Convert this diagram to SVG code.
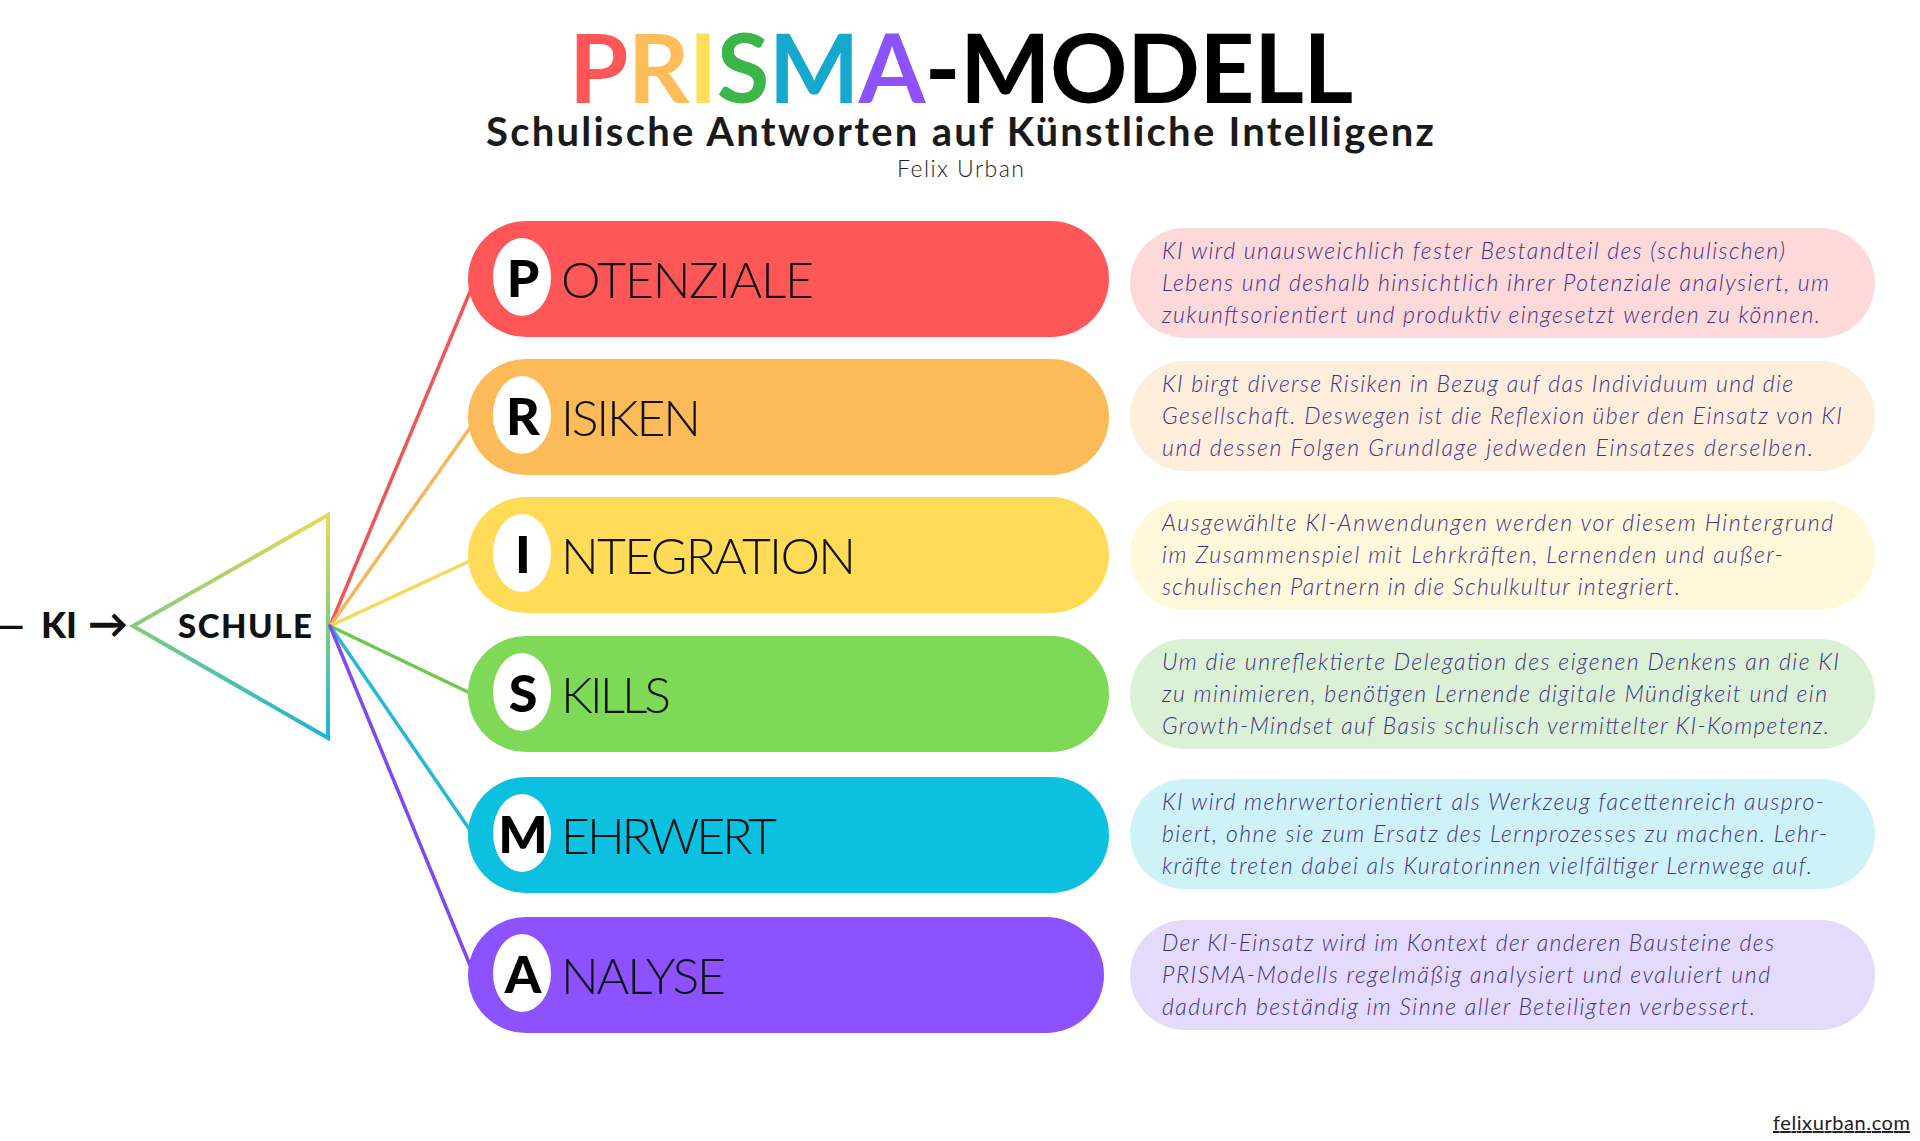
<svg xmlns="http://www.w3.org/2000/svg" width="1920" height="1141" viewBox="0 0 1920 1141">
<defs>
<linearGradient id="triGrad" gradientUnits="userSpaceOnUse" x1="0" y1="515" x2="0" y2="738">
<stop offset="0" stop-color="#ECD85A"/>
<stop offset="0.5" stop-color="#7FCD80"/>
<stop offset="1" stop-color="#1DB4DA"/>
</linearGradient>
</defs>
<style>
.title{font-family:"Lato","Liberation Sans",sans-serif;font-weight:700;}
.sub{font-family:"Lato","Liberation Sans",sans-serif;font-weight:700;fill:#1a1a1a;}
.author{font-family:"Lato","Liberation Sans",sans-serif;font-weight:300;fill:#222;}
.pill-oval{fill:#fff;}
.letter{font-family:"Lato","Liberation Sans",sans-serif;font-weight:900;font-size:52px;fill:#000;text-anchor:middle;}
.label{font-family:"Lato","Liberation Sans",sans-serif;font-weight:300;font-size:50px;fill:#111;}
.desc{font-family:"Lato","Liberation Sans",sans-serif;font-style:italic;font-weight:300;font-size:23px;fill:#3E3388;}
.conn{stroke-width:3.5;fill:none;stroke-linecap:round;}
.ki{font-family:"Lato","Liberation Sans",sans-serif;font-weight:900;fill:#111;}
</style>
<rect width="1920" height="1141" fill="#fff"/>

<g id="title">
<text class="title" x="569" y="103" font-size="96" textLength="784"><tspan fill="#FF5757">P</tspan><tspan fill="#FFBD59">R</tspan><tspan fill="#FFDE59">I</tspan><tspan fill="#3CB54A">S</tspan><tspan fill="#17A8CF">M</tspan><tspan fill="#8C52FF">A</tspan><tspan fill="#000">-MODELL</tspan></text>
<text class="sub" x="486" y="146" font-size="40" textLength="948">Schulische Antworten auf Künstliche Intelligenz</text>
<text class="author" x="897" y="177" font-size="23" textLength="127">Felix Urban</text>
</g>

<g id="input">
<text class="ki" y="638" font-size="36"><tspan x="-4" font-weight="700">—</tspan><tspan x="41">KI</tspan></text>
<text class="ki" x="88" y="638" font-size="40" font-family="DejaVu Sans" font-weight="700">→</text>
</g>

<g id="schule">
<polygon points="133,626 328,515 328,738" fill="none" stroke="url(#triGrad)" stroke-width="4" stroke-linejoin="miter"/>
<text class="ki" x="178" y="638" font-size="33" textLength="134">SCHULE</text>
</g>

<g id="connectors">
<line class="conn" x1="330" y1="626" x2="472" y2="287" stroke="#F05656"/>
<line class="conn" x1="330" y1="626" x2="472" y2="425" stroke="#F6B65B"/>
<line class="conn" x1="330" y1="626" x2="472" y2="560" stroke="#F7D65A"/>
<line class="conn" x1="330" y1="626" x2="472" y2="694" stroke="#6CC94F"/>
<line class="conn" x1="330" y1="626" x2="472" y2="833" stroke="#26B8D9"/>
<line class="conn" x1="330" y1="626" x2="472" y2="970" stroke="#8048F5"/>
</g>

<g id="potenziale">
<rect x="468" y="221" width="641" height="116" rx="58" fill="#FF5757"/>
<ellipse class="pill-oval" cx="522" cy="277" rx="29" ry="39"/>
<text class="letter" x="523" y="297">P</text>
<text class="label" x="561" y="298" textLength="253">OTENZIALE</text>
</g>
<g id="risiken">
<rect x="468" y="359" width="641" height="116" rx="58" fill="#FDBA58"/>
<ellipse class="pill-oval" cx="522" cy="415" rx="29" ry="39"/>
<text class="letter" x="523" y="435">R</text>
<text class="label" x="561" y="436" textLength="140">ISIKEN</text>
</g>
<g id="integration">
<rect x="468" y="497" width="641" height="116" rx="58" fill="#FFDB58"/>
<ellipse class="pill-oval" cx="522" cy="553" rx="29" ry="39"/>
<text class="letter" x="523" y="573">I</text>
<text class="label" x="561" y="574" textLength="295">NTEGRATION</text>
</g>
<g id="skills">
<rect x="468" y="636" width="641" height="116" rx="58" fill="#7ED957"/>
<ellipse class="pill-oval" cx="522" cy="692" rx="29" ry="39"/>
<text class="letter" x="523" y="712">S</text>
<text class="label" x="561" y="713" textLength="110">KILLS</text>
</g>
<g id="mehrwert">
<rect x="468" y="777" width="641" height="116" rx="58" fill="#0CC0DF"/>
<ellipse class="pill-oval" cx="522" cy="833" rx="29" ry="39"/>
<text class="letter" x="523" y="853">M</text>
<text class="label" x="561" y="854" textLength="216">EHRWERT</text>
</g>
<g id="analyse">
<rect x="468" y="917" width="636" height="116" rx="58" fill="#8C52FF"/>
<ellipse class="pill-oval" cx="522" cy="973" rx="29" ry="39"/>
<text class="letter" x="523" y="993">A</text>
<text class="label" x="561" y="994" textLength="165">NALYSE</text>
</g>

<g id="desc-potenziale">
<rect x="1130" y="228" width="745" height="110" rx="55" fill="#FDD9D9"/>
<text class="desc" x="1162" y="259" textLength="623">KI wird unausweichlich fester Bestandteil des (schulischen)</text>
<text class="desc" x="1162" y="291" textLength="667">Lebens und deshalb hinsichtlich ihrer Potenziale analysiert, um</text>
<text class="desc" x="1162" y="323" textLength="658">zukunftsorientiert und produktiv eingesetzt werden zu können.</text>
</g>
<g id="desc-risiken">
<rect x="1130" y="361" width="745" height="110" rx="55" fill="#FFEEDC"/>
<text class="desc" x="1162" y="392" textLength="631">KI birgt diverse Risiken in Bezug auf das Individuum und die</text>
<text class="desc" x="1162" y="424" textLength="680">Gesellschaft. Deswegen ist die Reflexion über den Einsatz von KI</text>
<text class="desc" x="1162" y="456" textLength="651">und dessen Folgen Grundlage jedweden Einsatzes derselben.</text>
</g>
<g id="desc-integration">
<rect x="1130" y="500" width="745" height="110" rx="55" fill="#FFF8DA"/>
<text class="desc" x="1162" y="531" textLength="671">Ausgewählte KI-Anwendungen werden vor diesem Hintergrund</text>
<text class="desc" x="1162" y="563" textLength="621">im Zusammenspiel mit Lehrkräften, Lernenden und außer-</text>
<text class="desc" x="1162" y="595" textLength="518">schulischen Partnern in die Schulkultur integriert.</text>
</g>
<g id="desc-skills">
<rect x="1130" y="639" width="745" height="110" rx="55" fill="#DAF1D6"/>
<text class="desc" x="1162" y="670" textLength="677">Um die unreflektierte Delegation des eigenen Denkens an die KI</text>
<text class="desc" x="1162" y="702" textLength="665">zu minimieren, benötigen Lernende digitale Mündigkeit und ein</text>
<text class="desc" x="1162" y="734" textLength="667">Growth-Mindset auf Basis schulisch vermittelter KI-Kompetenz.</text>
</g>
<g id="desc-mehrwert">
<rect x="1130" y="779" width="745" height="110" rx="55" fill="#CEF2F7"/>
<text class="desc" x="1162" y="810" textLength="662">KI wird mehrwertorientiert als Werkzeug facettenreich auspro-</text>
<text class="desc" x="1162" y="842" textLength="665">biert, ohne sie zum Ersatz des Lernprozesses zu machen. Lehr-</text>
<text class="desc" x="1162" y="874" textLength="650">kräfte treten dabei als Kuratorinnen vielfältiger Lernwege auf.</text>
</g>
<g id="desc-analyse">
<rect x="1130" y="920" width="745" height="110" rx="55" fill="#E4DAFC"/>
<text class="desc" x="1162" y="951" textLength="612">Der KI-Einsatz wird im Kontext der anderen Bausteine des</text>
<text class="desc" x="1162" y="983" textLength="608">PRISMA-Modells regelmäßig analysiert und evaluiert und</text>
<text class="desc" x="1162" y="1015" textLength="593">dadurch beständig im Sinne aller Beteiligten verbessert.</text>
</g>

<g id="footer">
<text x="1773" y="1130" font-family="Lato, Liberation Sans, sans-serif" font-size="20" fill="#222" text-decoration="underline" textLength="137">felixurban.com</text>
</g>
</svg>
